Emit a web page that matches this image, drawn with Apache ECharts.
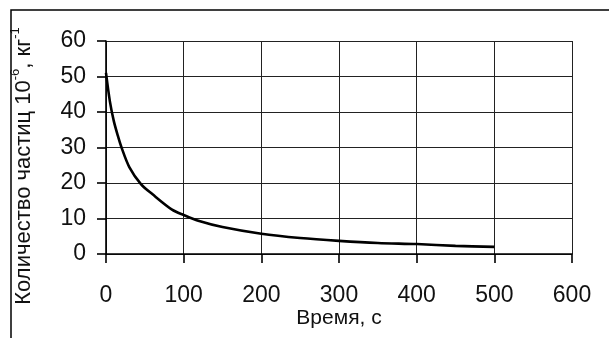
<!DOCTYPE html>
<html>
<head>
<meta charset="utf-8">
<script src="https://cdn.jsdelivr.net/npm/echarts@6/dist/echarts.min.js"></script>
<style>html,body{margin:0;padding:0;background:#fff}#c{width:609px;height:338px}</style>
</head>
<body>
<div id="c"></div>
<script>
var times = [0, 5, 10, 15, 20, 30, 45, 60, 85, 100, 120, 150, 200, 250, 300, 350, 400, 450, 500];
var counts = [51, 43, 37.5, 33.5, 30, 24.5, 19.7, 16.8, 12.5, 11, 9.3, 7.6, 5.7, 4.5, 3.7, 3.1, 2.8, 2.3, 2.0];
var xTicks = [0, 100, 200, 300, 400, 500, 600];
var yTicks = [0, 10, 20, 30, 40, 50, 60];
var xName = 'Время, с';
var yNameParts = ['Количество частиц 10', '-6', ', кг', '-1'];

var chart = echarts.init(document.getElementById('c'), null, {renderer: 'canvas'});
var font = 'Liberation Sans, Arial, sans-serif';
var pts = times.map(function (t, i) { return [t, counts[i]]; });
chart.setOption({
  animation: false,
  grid: {left: 106, right: 37, top: 41, bottom: 84, containLabel: false, outerBoundsMode: 'none'},
  xAxis: {
    type: 'value', min: xTicks[0], max: xTicks[xTicks.length - 1], interval: 100,
    name: xName, nameLocation: 'middle', nameGap: 54, nameMoveOverlap: false,
    nameTextStyle: {fontFamily: font, fontSize: 21, color: '#111'},
    axisLine: {show: true, lineStyle: {color: '#000', width: 1.6}},
    axisTick: {show: true, inside: false, length: 9, lineStyle: {color: '#000', width: 1.6}},
    axisLabel: {margin: 30, fontFamily: font, fontSize: 23, color: '#111'},
    splitLine: {show: true, lineStyle: {color: '#222', width: 1}}
  },
  yAxis: {
    type: 'value', min: yTicks[0], max: yTicks[yTicks.length - 1], interval: 10,
    axisLine: {show: true, onZero: false, lineStyle: {color: '#000', width: 1.6}},
    axisTick: {show: true, inside: false, length: 9, lineStyle: {color: '#000', width: 1.6}},
    axisLabel: {margin: 20, fontFamily: font, fontSize: 23, color: '#111'},
    splitLine: {show: true, lineStyle: {color: '#222', width: 1}}
  },
  series: [{
    type: 'line', data: pts, smooth: 0.3, symbol: 'none',
    lineStyle: {color: '#000', width: 2.6}
  }],
  graphic: [
    {type: 'polyline', shape: {points: [[11, 338], [11, 10], [609, 10]]}, style: {stroke: '#000', lineWidth: 1.5, fill: null}, silent: true},
    {type: 'text', x: 22, y: 166, rotation: Math.PI / 2,
     style: {
       text: '{m|' + yNameParts[0] + '}{s|' + yNameParts[1] + '}{m|' + yNameParts[2] + '}{s|' + yNameParts[3] + '}',
       align: 'center', verticalAlign: 'middle', fill: '#111',
       rich: {
         m: {fontFamily: font, fontSize: 22, lineHeight: 26, verticalAlign: 'bottom', fill: '#111'},
         s: {fontFamily: font, fontSize: 13, lineHeight: 26, verticalAlign: 'top', fill: '#111'}
       }
     }}
  ]
});
</script>
</body>
</html>
